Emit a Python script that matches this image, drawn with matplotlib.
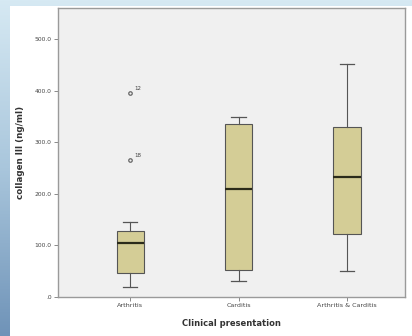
import numpy as np
import matplotlib
matplotlib.use("Agg")
import matplotlib.pyplot as plt
from matplotlib.patches import Rectangle
from matplotlib.colors import LinearSegmentedColormap

# Collagen III by clinical presentation (box-plot summaries)
categories = ["Arthritis", "Carditis", "Arthritis & Carditis"]
whisker_low = [19, 31, 50]
q1 = [47, 52, 123]
median = [104, 209, 233]
q3 = [128, 336, 330]
whisker_high = [146, 348, 451]
outlier_values = [[396, 265], [], []]
outlier_ids = [["12", "18"], [], []]
y_ticks = [0, 100, 200, 300, 400, 500]
y_tick_labels = [".0", "100.0", "200.0", "300.0", "400.0", "500.0"]

W, H = 412, 336
fig = plt.figure(figsize=(W / 100, H / 100), dpi=100)

# slide background: blue gradient with a white panel
bg = fig.add_axes([0, 0, 1, 1], zorder=-10)
grad = np.linspace(0, 1, 256).reshape(-1, 1)
cmap = LinearSegmentedColormap.from_list("slide", ["#d6e9f3", "#a9c6dc", "#6f93b8"])
bg.imshow(grad, aspect="auto", cmap=cmap, extent=[0, 1, 0, 1], origin="upper")
bg.add_patch(Rectangle((10 / W, 0), 1 - 10 / W, 1 - 6 / H, transform=bg.transAxes,
                       facecolor="white", edgecolor="none"))
bg.set_axis_off()

ax = fig.add_axes([58 / W, (H - 297) / H, 347 / W, (297 - 8) / H])
ax.set_facecolor("#f0f0f0")

positions = [1, 2, 3]
stats = []
for i, c in enumerate(categories):
    stats.append(dict(label=c, whislo=whisker_low[i], q1=q1[i], med=median[i],
                      q3=q3[i], whishi=whisker_high[i], fliers=outlier_values[i]))

ax.bxp(stats, positions=positions, widths=0.25, patch_artist=True,
       boxprops=dict(facecolor="#d4cd96", edgecolor="#555555", linewidth=0.8),
       medianprops=dict(color="#2b2b1a", linewidth=1.6),
       whiskerprops=dict(color="#555555", linewidth=0.8),
       capprops=dict(color="#555555", linewidth=0.9),
       capwidths=0.13,
       flierprops=dict(marker="o", markersize=2.5, markerfacecolor="none",
                       markeredgecolor="#666666", markeredgewidth=0.9))

for i, vals in enumerate(outlier_values):
    for v, lab in zip(vals, outlier_ids[i]):
        ax.annotate(lab, (positions[i], v), xytext=(3, 2), textcoords="offset points",
                    fontsize=4, color="#444444")

ax.set_xlim(0.335, 3.535)
ax.set_ylim(0, 560)
ax.set_yticks(y_ticks)
ax.set_yticklabels(y_tick_labels, fontsize=4.3, color="#444444")
ax.set_xticks(positions)
ax.set_xticklabels(categories, fontsize=4.6, color="#444444")
ax.tick_params(axis="both", length=3, width=0.6, color="#777777", pad=1.5)
for s in ax.spines.values():
    s.set_color("#9a9a9a")
    s.set_linewidth(1.0)

ax.set_ylabel("collagen III (ng/ml)", fontsize=6.3, fontweight="bold", color="#333333",
              labelpad=7)
ax.set_xlabel("Clinical presentation", fontsize=6, fontweight="bold", color="#333333",
              labelpad=8)

fig.savefig("out.png", dpi=100)
